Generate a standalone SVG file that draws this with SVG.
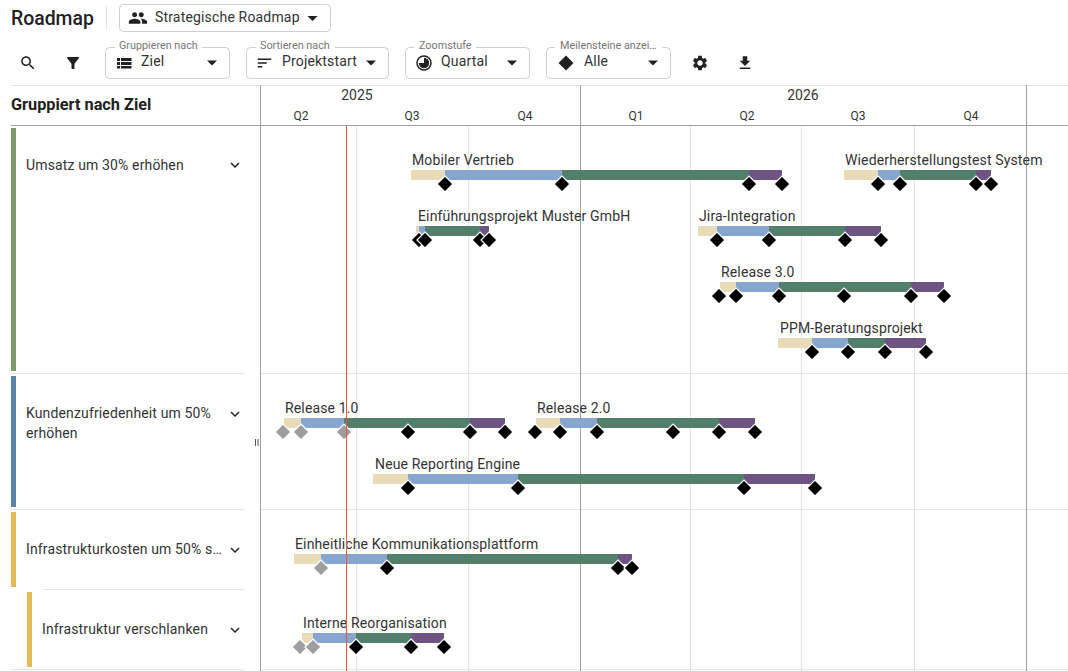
<svg xmlns="http://www.w3.org/2000/svg" xmlns:xlink="http://www.w3.org/1999/xlink" width="1068" height="671" viewBox="0 0 1068 671">
<style>
text{font-family:Roboto,"Liberation Sans",sans-serif;fill:#333}
.lb{font-size:14px;letter-spacing:.14px}
.leg{font-size:10.800px;fill:#757575}
.val{font-size:14px;letter-spacing:.17px}
.q{font-size:12px;text-anchor:middle}
.y{font-size:14px;text-anchor:middle}
.box{fill:none;stroke:#cfcfcf;stroke-width:1}
.gap{fill:#fff}
.ic{fill:#212121}
.g1{stroke:#e4e4e4;stroke-width:1;fill:none}
.g2{stroke:#a0a0a0;stroke-width:1;fill:none}
.t{fill:#e8dcb8}.b{fill:#86a6cf}.n{fill:#517f6b}.p{fill:#6d5482}
.d{fill:#000;stroke:#fff;stroke-width:1.2}
.e{fill:#9e9e9e;stroke:#fff;stroke-width:1.2}
</style>
<defs>
<path id="dm" d="M0-8 8 0 0 8-8 0Z"/>
<path id="dd" d="M7 10l5 5 5-5z"/>
<path id="chev" d="M16.59 8.59L12 13.17 7.41 8.59 6 10l6 6 6-6z"/>
</defs>
<rect width="1068" height="671" fill="#fff"/>

<g id="toolbar">
<text x="11" y="25" font-size="19.400" font-weight="500" style="fill:#212121">Roadmap</text>
<line x1="106.500" y1="6" x2="106.500" y2="30" class="g1"/>
<rect x="119.500" y="4.500" width="211" height="27" rx="4" class="box"/>
<path class="ic" transform="translate(128 8) scale(.83)" d="M16 11c1.660 0 2.990-1.340 2.990-3S17.660 5 16 5c-1.660 0-3 1.340-3 3s1.340 3 3 3zm-8 0c1.660 0 2.990-1.340 2.990-3S9.660 5 8 5C6.340 5 5 6.340 5 8s1.340 3 3 3zm0 2c-2.330 0-7 1.170-7 3.500V19h14v-2.500c0-2.330-4.670-3.500-7-3.500zm8 0c-.290 0-.620.020-.970.050 1.160.840 1.970 1.970 1.970 3.450V19h6v-2.500c0-2.330-4.670-3.500-7-3.500z"/>
<text x="155" y="22" class="val">Strategische Roadmap</text>
<use href="#dd" class="ic" transform="translate(300.500 6)"/>
<path class="ic" transform="translate(19 54) scale(.75)" d="M15.500 14h-.790l-.280-.270C15.410 12.590 16 11.110 16 9.500 16 5.910 13.090 3 9.500 3S3 5.910 3 9.500 5.910 16 9.500 16c1.610 0 3.090-.590 4.230-1.570l.270.280v.790l5 4.990L20.490 19l-4.990-5zm-6 0C7.010 14 5 11.990 5 9.500S7.010 5 9.500 5 14 7.010 14 9.500 11.990 14 9.500 14z"/>
<path class="ic" transform="translate(64 54) scale(.75)" d="M4.250 5.610C6.270 8.200 10 13 10 13v6c0 .550.450 1 1 1h2c.550 0 1-.450 1-1v-6s3.720-4.800 5.740-7.390c.510-.660.040-1.610-.790-1.610H5.040c-.830 0-1.300.950-.790 1.610z"/>

<rect x="105.500" y="47.500" width="124" height="31" rx="4" class="box"/>
<rect x="115" y="44" width="87" height="6" class="gap"/>
<text x="119" y="49" class="leg">Gruppieren nach</text>
<path class="ic" d="M117 58h3v3h-3zM121 58h10.500v3H121zM117 62h3v3h-3zM121 62h10.500v3H121zM117 66h3v2.500h-3zM121 66h10.500v2.500H121z"/>
<text x="141" y="66" class="val">Ziel</text>
<use href="#dd" class="ic" transform="translate(200 50.500)"/>

<rect x="246.500" y="47.500" width="142" height="31" rx="4" class="box"/>
<rect x="256" y="44" width="79" height="6" class="gap"/>
<text x="260" y="49" class="leg">Sortieren nach</text>
<path class="ic" transform="translate(255.500 54) scale(.75)" d="M3 18h6v-2H3v2zM3 6v2h18V6H3zm0 7h12v-2H3v2z"/>
<text x="282" y="66" class="val">Projektstart</text>
<use href="#dd" class="ic" transform="translate(359 50.500)"/>

<rect x="405.500" y="47.500" width="124" height="31" rx="4" class="box"/>
<rect x="414" y="44" width="62" height="6" class="gap"/>
<text x="419" y="49" class="leg">Zoomstufe</text>
<circle cx="424" cy="63" r="7" fill="none" stroke="#212121" stroke-width="1.500"/>
<path class="ic" d="M424 57.800A5.200 5.200 0 1 1 418.800 63H424Z"/>
<text x="441" y="66" class="val">Quartal</text>
<use href="#dd" class="ic" transform="translate(500 50.500)"/>

<rect x="546.500" y="47.500" width="124" height="31" rx="4" class="box"/>
<rect x="555" y="44" width="107" height="6" class="gap"/>
<text x="560" y="49" class="leg">Meilensteine anzei…</text>
<path class="ic" d="M566 55.500 573.500 63 566 70.500 558.500 63Z"/>
<text x="584" y="66" class="val">Alle</text>
<use href="#dd" class="ic" transform="translate(641 50.500)"/>

<path class="ic" transform="translate(691 54) scale(.75)" d="M19.140 12.940c.040-.300.060-.610.060-.940 0-.320-.020-.640-.070-.940l2.030-1.580c.180-.140.230-.410.120-.610l-1.920-3.320c-.120-.220-.370-.290-.590-.220l-2.390.960c-.500-.380-1.030-.700-1.620-.940l-.360-2.540c-.040-.240-.240-.410-.480-.410h-3.840c-.240 0-.430.170-.470.410l-.360 2.540c-.590.240-1.130.570-1.620.940l-2.390-.960c-.220-.080-.470 0-.590.220L2.740 8.870c-.120.210-.080.470.120.610l2.030 1.580c-.050.300-.090.630-.090.940s.020.640.070.940l-2.030 1.580c-.180.140-.230.410-.12.610l1.920 3.320c.120.220.370.290.590.220l2.390-.960c.500.380 1.030.700 1.620.940l.360 2.540c.050.240.240.410.480.410h3.840c.240 0 .440-.170.470-.410l.360-2.540c.590-.240 1.130-.560 1.620-.940l2.390.960c.220.080.470 0 .590-.220l1.920-3.320c.120-.220.070-.470-.120-.610l-2.010-1.580zM12 15.600c-1.980 0-3.600-1.620-3.600-3.600s1.620-3.600 3.600-3.600 3.600 1.620 3.600 3.600-1.620 3.600-3.600 3.600z"/>
<path class="ic" transform="translate(736 54) scale(.75)" d="M19 9h-4V3H9v6H5l7 7 7-7zM5 18v2h14v-2H5z"/>
</g>

<g id="grid">
<path class="g1" d="M11 85.500H1068M356.500 126V671M468.500 126V671M690.500 126V671M801.500 126V671M914.500 126V671"/>
<path class="g1" d="M11 373.500H244M260 373.500H1068M11 509.500H244M260 509.500H1068M43 589.500H244M11 669.500H244M260 669.500H1068"/>
<path class="g2" d="M11 125.500H1068M260.500 85V671M580.500 85V671M1026.500 85V671"/>
<path d="M255.500 439v7M258 439v7" stroke="#555" stroke-width="1"/>
</g>

<g id="header">
<text x="11" y="110" font-size="16.300" font-weight="700" style="fill:#212121">Gruppiert nach Ziel</text>
<text x="357" y="100" class="y">2025</text>
<text x="803" y="100" class="y">2026</text>
<text x="301" y="120" class="q">Q2</text>
<text x="412" y="120" class="q">Q3</text>
<text x="525" y="120" class="q">Q4</text>
<text x="636" y="120" class="q">Q1</text>
<text x="747" y="120" class="q">Q2</text>
<text x="858" y="120" class="q">Q3</text>
<text x="971" y="120" class="q">Q4</text>
</g>

<g id="goal-umsatz">
<rect x="11" y="128" width="5" height="243" fill="#7e9a6b"/>
<text x="26" y="170" class="lb">Umsatz um 30% erhöhen</text>
<use href="#chev" class="ic" transform="translate(226 156) scale(.75)"/>
</g>
<g id="goal-kunden">
<rect x="11" y="376" width="5" height="131" fill="#5b82ab"/>
<text x="26" y="418" class="lb">Kundenzufriedenheit um 50%</text>
<text x="26" y="438" class="lb">erhöhen</text>
<use href="#chev" class="ic" transform="translate(226 405) scale(.75)"/>
</g>
<g id="goal-infra">
<rect x="11" y="512" width="5" height="75" fill="#e3b95c"/>
<text x="26" y="554" class="lb">Infrastrukturkosten um 50% s…</text>
<use href="#chev" class="ic" transform="translate(226 541) scale(.75)"/>
</g>
<g id="goal-verschlanken">
<rect x="27" y="592" width="5" height="75" fill="#e3b95c"/>
<text x="42" y="634" class="lb">Infrastruktur verschlanken</text>
<use href="#chev" class="ic" transform="translate(226 621) scale(.75)"/>
</g>

<g id="p-mobil">
<text x="412" y="165" class="lb">Mobiler Vertrieb</text>
<rect class="t" x="411" y="170" width="34" height="10"/><rect class="b" x="445" y="170" width="117" height="10"/><rect class="n" x="562" y="170" width="187" height="10"/><rect class="p" x="749" y="170" width="33" height="10"/>
<use href="#dm" class="d" x="445" y="184"/><use href="#dm" class="d" x="562" y="184"/><use href="#dm" class="d" x="749" y="184"/><use href="#dm" class="d" x="782" y="184"/>
</g>
<g id="p-wieder">
<text x="845" y="165" class="lb">Wiederherstellungstest System</text>
<rect class="t" x="844" y="170" width="34" height="10"/><rect class="b" x="878" y="170" width="22" height="10"/><rect class="n" x="900" y="170" width="76" height="10"/><rect class="p" x="976" y="170" width="15" height="10"/>
<use href="#dm" class="d" x="878" y="184"/><use href="#dm" class="d" x="900" y="184"/><use href="#dm" class="d" x="976" y="184"/><use href="#dm" class="d" x="991" y="184"/>
</g>
<g id="p-muster">
<text x="418" y="221" class="lb">Einführungsprojekt Muster GmbH</text>
<rect class="t" x="416" y="226" width="3" height="10"/><rect class="b" x="419" y="226" width="6" height="10"/><rect class="n" x="425" y="226" width="55" height="10"/><rect class="p" x="480" y="226" width="9" height="10"/>
<use href="#dm" class="d" x="419" y="240"/><use href="#dm" class="d" x="425" y="240"/><use href="#dm" class="d" x="480" y="240"/><use href="#dm" class="d" x="489" y="240"/>
</g>
<g id="p-jira">
<text x="699" y="221" class="lb">Jira-Integration</text>
<rect class="t" x="698" y="226" width="19" height="10"/><rect class="b" x="717" y="226" width="52" height="10"/><rect class="n" x="769" y="226" width="76" height="10"/><rect class="p" x="845" y="226" width="36" height="10"/>
<use href="#dm" class="d" x="717" y="240"/><use href="#dm" class="d" x="769" y="240"/><use href="#dm" class="d" x="845" y="240"/><use href="#dm" class="d" x="881" y="240"/>
</g>
<g id="p-rel3">
<text x="721" y="277" class="lb">Release 3.0</text>
<rect class="t" x="720" y="282" width="16" height="10"/><rect class="b" x="736" y="282" width="43" height="10"/><rect class="n" x="779" y="282" width="132" height="10"/><rect class="p" x="911" y="282" width="33" height="10"/>
<use href="#dm" class="d" x="719" y="296"/><use href="#dm" class="d" x="736" y="296"/><use href="#dm" class="d" x="779" y="296"/><use href="#dm" class="d" x="844" y="296"/><use href="#dm" class="d" x="911" y="296"/><use href="#dm" class="d" x="944" y="296"/>
</g>
<g id="p-ppm">
<text x="780" y="333" class="lb">PPM-Beratungsprojekt</text>
<rect class="t" x="778" y="338" width="34" height="10"/><rect class="b" x="812" y="338" width="36" height="10"/><rect class="n" x="848" y="338" width="37" height="10"/><rect class="p" x="885" y="338" width="41" height="10"/>
<use href="#dm" class="d" x="812" y="352"/><use href="#dm" class="d" x="848" y="352"/><use href="#dm" class="d" x="885" y="352"/><use href="#dm" class="d" x="926" y="352"/>
</g>
<g id="p-rel1">
<text x="285" y="413" class="lb">Release 1.0</text>
<rect class="t" x="284" y="418" width="17" height="10"/><rect class="b" x="301" y="418" width="43" height="10"/><rect class="n" x="344" y="418" width="126" height="10"/><rect class="p" x="470" y="418" width="35" height="10"/>
<use href="#dm" class="e" x="283" y="432"/><use href="#dm" class="e" x="301" y="432"/><use href="#dm" class="e" x="344" y="432"/><use href="#dm" class="d" x="408" y="432"/><use href="#dm" class="d" x="470" y="432"/><use href="#dm" class="d" x="505" y="432"/>
</g>
<g id="p-rel2">
<text x="537" y="413" class="lb">Release 2.0</text>
<rect class="t" x="536" y="418" width="24" height="10"/><rect class="b" x="560" y="418" width="37" height="10"/><rect class="n" x="597" y="418" width="122" height="10"/><rect class="p" x="719" y="418" width="36" height="10"/>
<use href="#dm" class="d" x="535" y="432"/><use href="#dm" class="d" x="560" y="432"/><use href="#dm" class="d" x="597" y="432"/><use href="#dm" class="d" x="673" y="432"/><use href="#dm" class="d" x="719" y="432"/><use href="#dm" class="d" x="755" y="432"/>
</g>
<g id="p-engine">
<text x="375" y="469" class="lb">Neue Reporting Engine</text>
<rect class="t" x="373" y="474" width="35" height="10"/><rect class="b" x="408" y="474" width="110" height="10"/><rect class="n" x="518" y="474" width="226" height="10"/><rect class="p" x="744" y="474" width="71" height="10"/>
<use href="#dm" class="d" x="408" y="488"/><use href="#dm" class="d" x="518" y="488"/><use href="#dm" class="d" x="744" y="488"/><use href="#dm" class="d" x="815" y="488"/>
</g>
<g id="p-komm">
<text x="295" y="549" class="lb">Einheitliche Kommunikationsplattform</text>
<rect class="t" x="294" y="554" width="27" height="10"/><rect class="b" x="321" y="554" width="66" height="10"/><rect class="n" x="387" y="554" width="231" height="10"/><rect class="p" x="618" y="554" width="14" height="10"/>
<use href="#dm" class="e" x="321" y="568"/><use href="#dm" class="d" x="387" y="568"/><use href="#dm" class="d" x="618" y="568"/><use href="#dm" class="d" x="632" y="568"/>
</g>
<g id="p-reorg">
<text x="303" y="628" class="lb">Interne Reorganisation</text>
<rect class="t" x="302" y="633" width="11" height="10"/><rect class="b" x="313" y="633" width="43" height="10"/><rect class="n" x="356" y="633" width="55" height="10"/><rect class="p" x="411" y="633" width="33" height="10"/>
<use href="#dm" class="e" x="300" y="647"/><use href="#dm" class="e" x="313" y="647"/><use href="#dm" class="d" x="356" y="647"/><use href="#dm" class="d" x="411" y="647"/><use href="#dm" class="d" x="444" y="647"/>
</g>

<g id="today"><line x1="346.500" y1="126" x2="346.500" y2="671" stroke="#f0553a" stroke-width="1"/></g>
</svg>
